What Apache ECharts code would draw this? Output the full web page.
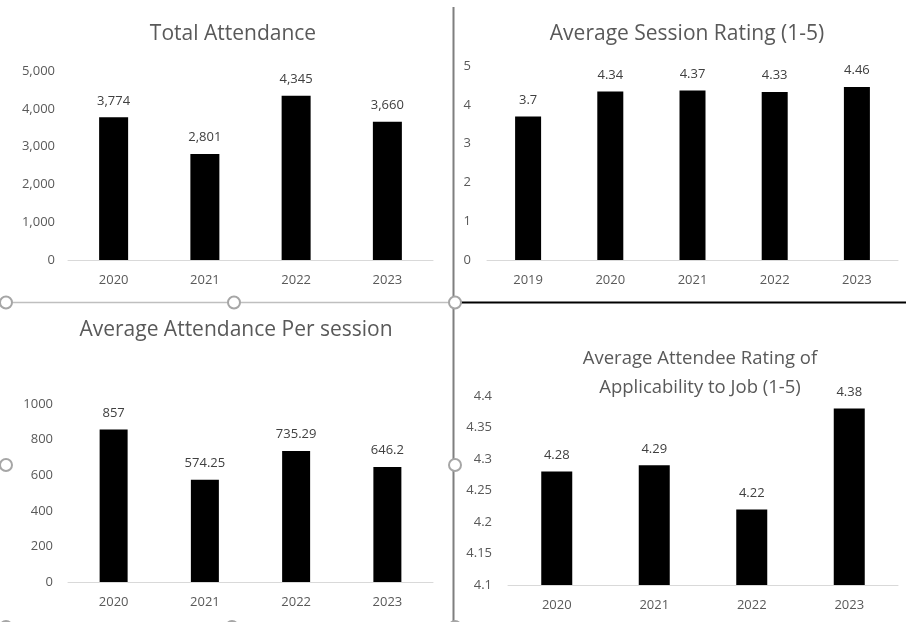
<!DOCTYPE html>
<html>
<head>
<meta charset="utf-8">
<title>Attendance and Ratings</title>
<script src="https://cdn.jsdelivr.net/npm/echarts@6/dist/echarts.min.js"></script>
<style>
	html, body { margin: 0; padding: 0; background: #ffffff; }
	#main { width: 906px; height: 622px; }
</style>
</head>
<body>
<div id="main"></div>
<script>
// data
var attendYears = ['2020', '2021', '2022', '2023'];
var totalAttendance = [3774, 2801, 4345, 3660];

var ratingYears = ['2019', '2020', '2021', '2022', '2023'];
var sessionRating = [3.7, 4.34, 4.37, 4.33, 4.46];

var perSessionYears = ['2020', '2021', '2022', '2023'];
var perSession = [857, 574.25, 735.29, 646.2];

var jobYears = ['2020', '2021', '2022', '2023'];
var jobRating = [4.28, 4.29, 4.22, 4.38];

var FONT = '"Open Sans", sans-serif';
var axisGrey = '#595959';
var labelGrey = '#404040';

function thousands(v) {
	return String(v).replace(/\B(?=(\d{3})+(?!\d))/g, ',');
}

function xAx(idx, cats) {
	return {
		type : 'category',
		gridIndex : idx,
		data : cats,
		axisLine : { lineStyle : { color : '#d9d9d9', width : 1 } },
		axisTick : { show : false },
		axisLabel : { color : axisGrey, fontSize : 13, fontFamily : FONT, margin : 14 }
	};
}

function yAx(idx, min, max, interval, fmt, margin) {
	return {
		type : 'value',
		gridIndex : idx,
		min : min,
		max : max,
		interval : interval,
		axisLine : { show : false },
		axisTick : { show : false },
		splitLine : { show : false },
		axisLabel : { color : axisGrey, fontSize : 13, fontFamily : FONT, margin : margin, formatter : fmt }
	};
}

function bars(idx, values, width, fmt) {
	return {
		type : 'bar',
		xAxisIndex : idx,
		yAxisIndex : idx,
		data : values,
		barWidth : width,
		itemStyle : { color : '#000000' },
		label : {
			show : true,
			position : 'top',
			distance : 10,
			color : labelGrey,
			fontSize : 13,
			fontFamily : FONT,
			formatter : fmt
		},
		silent : true
	};
}

function handle(x, y) {
	return {
		type : 'circle',
		shape : { cx : x, cy : y, r : 6 },
		style : { fill : '#ffffff', stroke : '#a6a6a6', lineWidth : 2 },
		z : 100
	};
}

var myChart = echarts.init(document.getElementById('main'), null, { renderer : 'canvas' });

var titleStyle = { color : axisGrey, fontSize : 21, fontWeight : 'normal', fontFamily : FONT };

var option = {
	animation : false,
	backgroundColor : '#ffffff',
	title : [
		{ text : 'Total Attendance', left : 228, top : 19, textAlign : 'center', textStyle : titleStyle },
		{ text : 'Average Session Rating (1-5)', left : 682, top : 19, textAlign : 'center', textStyle : titleStyle },
		{ text : 'Average Attendance Per session', left : 231, top : 315, textAlign : 'center', textStyle : titleStyle },
		{ text : 'Average Attendee Rating of\nApplicability to Job (1-5)', left : 695, top : 339, textAlign : 'center',
			textStyle : { color : axisGrey, fontSize : 18.5, fontWeight : 'normal', fontFamily : FONT, lineHeight : 29 } }
	],
	grid : [
		{ left : 68, top : 71, width : 365, height : 189 },
		{ left : 487, top : 66, width : 411, height : 194 },
		{ left : 68, top : 404, width : 365, height : 178 },
		{ left : 508, top : 396, width : 390, height : 189 }
	],
	xAxis : [
		xAx(0, attendYears),
		xAx(1, ratingYears),
		xAx(2, perSessionYears),
		xAx(3, jobYears)
	],
	yAxis : [
		yAx(0, 0, 5000, 1000, function (v) { return thousands(v); }, 13),
		yAx(1, 0, 5, 1, function (v) { return String(v); }, 16),
		yAx(2, 0, 1000, 200, function (v) { return String(v); }, 15),
		yAx(3, 4.1, 4.4, 0.05, function (v) { return String(parseFloat(v.toFixed(2))); }, 16)
	],
	series : [
		bars(0, totalAttendance, 29, function (p) { return thousands(p.value); }),
		bars(1, sessionRating, 26, null),
		bars(2, perSession, 28, null),
		bars(3, jobRating, 31, null)
	],
	graphic : [
		// light divider on the left, dark one on the right
		{ type : 'line', shape : { x1 : 0, y1 : 302.5, x2 : 453, y2 : 302.5 }, style : { stroke : '#bfbfbf', lineWidth : 1.5 }, z : 50 },
		{ type : 'line', shape : { x1 : 455, y1 : 302.5, x2 : 906, y2 : 302.5 }, style : { stroke : '#000000', lineWidth : 2 }, z : 50 },
		{ type : 'line', shape : { x1 : 453.5, y1 : 7, x2 : 453.5, y2 : 622 }, style : { stroke : '#7f7f7f', lineWidth : 2 }, z : 50 },
		handle(6, 302.5),
		handle(234, 302.5),
		handle(455, 302.5),
		handle(6, 465),
		handle(455, 465),
		handle(6, 627),
		handle(232, 627),
		handle(455, 627)
	]
};

myChart.setOption(option);
</script>
</body>
</html>
